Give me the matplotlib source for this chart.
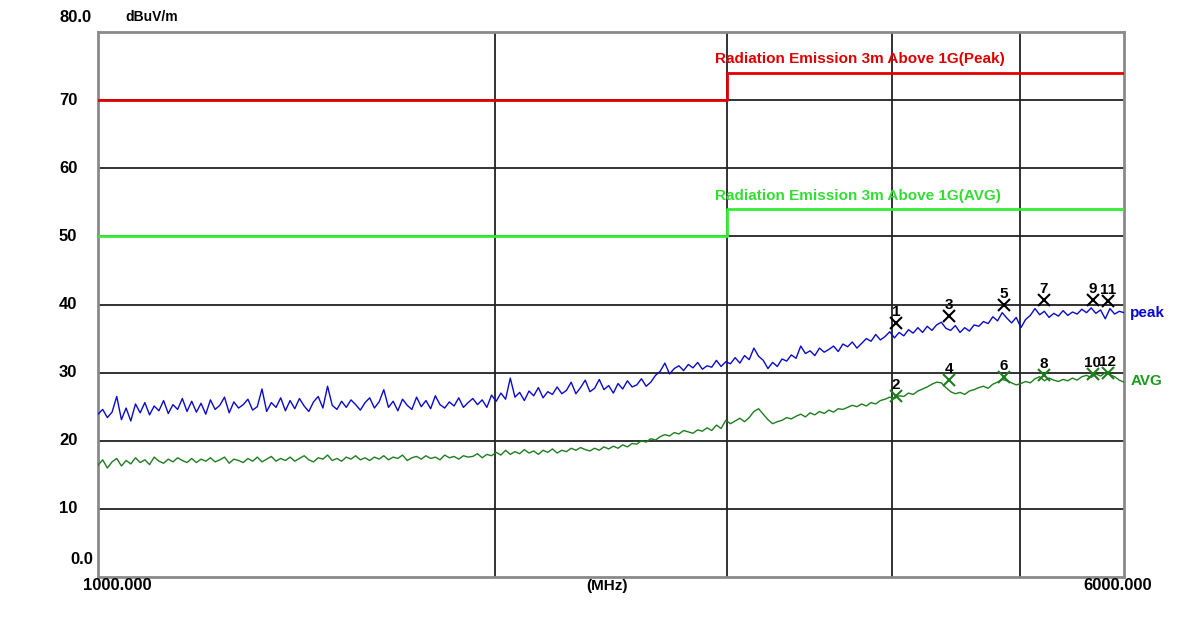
import numpy as np
import matplotlib.pyplot as plt
from matplotlib.transforms import blended_transform_factory

# lecturas de la traza peak (dBuV/m), barrido de 1000 a 6000 MHz
peak = [
    23.9, 24.6, 23.4, 24.2, 26.5, 23.1, 24.8, 22.9, 25.4, 24.1, 25.6, 23.8, 25.1, 24.4, 25.9, 24.0, 25.3, 24.6, 26.2, 24.3,
    25.8, 24.2, 25.5, 23.9, 26.0, 24.6, 25.2, 26.4, 24.1, 25.7, 24.8, 25.3, 26.1, 24.5, 25.0, 27.6, 24.3, 25.6, 24.9, 26.3,
    24.4, 25.9, 24.7, 26.2, 25.1, 24.3, 25.7, 26.5, 24.8, 28.0, 25.2, 24.6, 25.8, 24.9, 26.0, 25.3, 24.5, 25.6, 26.3, 24.8,
    25.7, 27.5, 24.9, 25.8, 24.4, 26.1, 25.2, 24.6, 26.4, 25.0, 25.9, 24.7, 26.6, 25.3, 24.8, 25.7, 25.1, 26.3, 24.9, 25.6,
    26.2, 25.3, 26.0, 24.9, 26.7, 25.8, 27.0, 26.1, 29.2, 26.4, 27.1, 25.9, 27.3, 26.6, 27.8, 26.3, 27.2, 26.8, 27.9, 26.9,
    27.4, 28.6, 26.9, 27.8, 28.9, 27.2, 27.7, 29.0, 27.5, 28.1, 27.0, 28.4, 27.6, 28.8, 27.9, 28.2, 29.1, 28.0, 28.6, 29.6,
    30.2, 31.4, 29.8, 30.6, 31.0, 30.3, 31.2, 30.7, 31.5, 30.5, 31.0, 30.8, 31.8, 30.9, 31.6, 31.3, 32.2, 31.4, 32.5, 31.9,
    33.6, 32.4, 31.8, 30.6, 31.5, 30.9, 32.0, 31.7, 32.6, 32.1, 33.9, 32.8, 33.2, 32.5, 33.6, 33.0, 33.4, 33.9, 33.1, 34.2,
    33.8, 34.5, 33.6, 34.3, 35.0, 34.6, 35.6, 34.8, 35.3, 36.0, 35.1, 35.9, 35.4, 36.3, 35.8, 36.6, 35.9, 36.8, 36.2, 37.0,
    37.4, 36.5, 36.2, 36.9, 35.9, 36.6, 36.1, 37.0, 36.8, 37.5, 37.2, 38.2, 37.6, 38.8, 38.0, 37.3, 38.1, 36.6, 37.8, 38.4,
    39.4, 38.5, 39.0, 38.1, 38.7, 38.3, 39.1, 38.4, 38.9, 38.6, 39.3, 38.8, 39.5, 38.7, 39.2, 37.9, 39.4, 38.6, 39.0, 38.8,
]

# lecturas de la traza AVG
avg = [
    16.4, 17.2, 16.0, 16.9, 17.4, 16.3, 17.1, 16.6, 17.5, 16.8, 17.2, 16.5, 17.6, 17.0, 16.7, 17.3, 16.9, 17.5, 17.1, 16.8,
    17.4, 16.8, 17.3, 17.0, 17.5, 16.9, 17.2, 17.6, 16.7, 17.3, 17.1, 16.8, 17.4, 17.0, 17.6, 16.9, 17.3, 17.7, 17.0, 17.4,
    17.1, 17.6, 17.0, 17.4, 17.8, 17.2, 16.9, 17.5, 17.3, 17.9, 17.1, 17.4, 17.0, 17.6, 17.3, 17.8, 17.2, 17.5, 17.1, 17.6,
    17.3, 17.8, 17.2, 17.6, 17.4, 17.9, 17.1, 17.5, 17.7, 17.3, 17.8, 17.4, 17.6, 17.2, 17.9, 17.5, 17.7, 17.3, 17.8, 17.6,
    17.7, 18.1, 17.5, 18.0, 17.8, 18.3, 17.9, 18.6, 18.0, 18.4, 18.1, 18.7, 18.2, 18.5, 18.0, 18.6, 18.3, 18.8, 18.2, 18.6,
    18.4, 18.9, 18.6, 19.0, 18.7, 18.5, 18.9, 18.6, 19.1, 18.8, 19.2, 18.9, 19.4, 19.1, 19.6, 19.5, 20.0, 19.8, 20.3, 20.1,
    20.6, 20.9, 20.7, 21.2, 21.0, 21.5, 21.3, 21.1, 21.6, 21.4, 21.9, 21.5, 22.3, 21.8, 23.0, 22.5, 22.9, 23.3, 22.8, 23.4,
    24.3, 24.7, 23.9, 23.1, 22.5, 22.8, 23.0, 23.4, 23.2, 23.6, 23.9, 23.5, 24.1, 23.8, 24.3, 24.0, 24.5, 24.2, 24.7, 24.6,
    24.9, 25.2, 25.0, 25.4, 25.1, 25.6, 25.4, 25.9, 26.1, 26.4, 26.2, 26.6, 26.5, 27.0, 26.8, 27.3, 27.6, 27.9, 28.3, 28.6,
    28.5, 27.8, 27.2, 26.9, 27.1, 26.8, 27.3, 27.5, 27.8, 28.0, 27.7, 28.3, 28.6, 29.0, 28.8, 28.5, 28.2, 28.4, 28.7, 28.5,
    29.1, 29.4, 28.8, 29.2, 28.9, 28.7, 29.0, 28.8, 29.2, 28.9, 29.4, 29.6, 29.3, 29.8, 29.5, 30.0, 29.7, 29.4, 28.9, 28.6,
]

# frecuencias del barrido (puntos equiespaciados en log)
freq = np.geomspace(1000, 6000, len(peak))

# limites
limit_f = [1000, 3000, 3000, 6000]
limit_peak = [70, 70, 74, 74]
limit_avg = [50, 50, 54, 54]

# marcadores
mk_peak_f = [4030, 4418, 4864, 5216, 5682, 5834]
mk_peak_v = [37.3, 38.3, 39.9, 40.7, 40.7, 40.5]
mk_peak_n = ['1', '3', '5', '7', '9', '11']
mk_avg_f = [4030, 4418, 4864, 5216, 5682, 5834]
mk_avg_v = [26.6, 28.9, 29.4, 29.7, 29.8, 29.9]
mk_avg_n = ['2', '4', '6', '8', '10', '12']

y_ticks = [10, 20, 30, 40, 50, 60, 70]
x_grid = [2000, 3000, 4000, 5000]

plt.rcParams['font.family'] = ['Liberation Sans', 'DejaVu Sans']

fig = plt.figure(figsize=(11.87, 6.19), dpi=100)
ax = fig.add_axes([98 / 1187, 42 / 619, 1026 / 1187, 545 / 619])
ax.set_xscale('log')
ax.set_xlim(1000, 6000)
ax.set_ylim(0, 80)

# rejilla
for y in y_ticks:
    ax.axhline(y, color='#222222', lw=1.3, zorder=1)
for x in x_grid:
    ax.axvline(x, color='#222222', lw=1.3, zorder=1)

for s in ax.spines.values():
    s.set_color('#8a8a8a')
    s.set_linewidth(2)
ax.set_xticks([])
ax.set_yticks([])
ax.minorticks_off()

# limites
ax.plot(limit_f, limit_peak, color='#e00000', lw=2, zorder=3)
ax.plot(limit_f, limit_avg, color='#33ee33', lw=2, zorder=3)
ax.text(0.601, 76.0, 'Radiation Emission 3m Above 1G(Peak)', transform=blended_transform_factory(ax.transAxes, ax.transData),
        color='#dd0000', fontsize=11, fontweight='bold', va='center', ha='left', zorder=5)
ax.text(0.601, 55.9, 'Radiation Emission 3m Above 1G(AVG)', transform=blended_transform_factory(ax.transAxes, ax.transData),
        color='#33dd33', fontsize=11, fontweight='bold', va='center', ha='left', zorder=5)

# trazas
ax.plot(freq, peak, color='#0a0acc', lw=1, zorder=4)
ax.plot(freq, avg, color='#1e7d1e', lw=1, zorder=4)

ax.plot(mk_peak_f, mk_peak_v, 'x', color='black', ms=8, mew=1.5, zorder=6)
ax.plot(mk_avg_f, mk_avg_v, 'x', color='#1e7d1e', ms=8, mew=1.5, zorder=6)
for f, v, n in zip(mk_peak_f, mk_peak_v, mk_peak_n):
    ax.annotate(n, (f, v), xytext=(0, 3), textcoords='offset points', ha='center', va='bottom',
                fontsize=11, fontweight='bold', color='black', zorder=7)
for f, v, n in zip(mk_avg_f, mk_avg_v, mk_avg_n):
    ax.annotate(n, (f, v), xytext=(0, 3), textcoords='offset points', ha='center', va='bottom',
                fontsize=11, fontweight='bold', color='black', zorder=7)

tr = blended_transform_factory(ax.transAxes, ax.transData)
ax.text(1.006, 38.75, 'peak', transform=tr, color='#0a0acc', fontsize=11, fontweight='bold', va='center', ha='left')
ax.text(1.006, 28.8, 'AVG', transform=tr, color='#1e9a1e', fontsize=11, fontweight='bold', va='center', ha='left')

# etiquetas del eje y
for y in [70, 60, 50, 40, 30, 20, 10]:
    ax.text(-0.038, y, str(y), transform=tr, fontsize=12, fontweight='bold', va='center', ha='left', clip_on=False)
ax.text(-0.038, 82.2, '80.0', transform=tr, fontsize=12, fontweight='bold', va='center', ha='left', clip_on=False)
ax.text(-0.005, 2.6, '0.0', transform=tr, fontsize=12, fontweight='bold', va='center', ha='right', clip_on=False)
ax.text(0.027, 82.2, 'dBuV/m', transform=tr, fontsize=10, fontweight='bold', va='center', ha='left', clip_on=False)

# etiquetas del eje x
ax.text(-0.0146, -1.3, '1000.000', transform=tr, fontsize=12, fontweight='bold', va='center', ha='left', clip_on=False)
ax.text(1.0273, -1.3, '6000.000', transform=tr, fontsize=12, fontweight='bold', va='center', ha='right', clip_on=False)
ax.text(0.496, -1.3, '(MHz)', transform=tr, fontsize=11, fontweight='bold', va='center', ha='center', clip_on=False)

fig.savefig('out.png', dpi=100)
